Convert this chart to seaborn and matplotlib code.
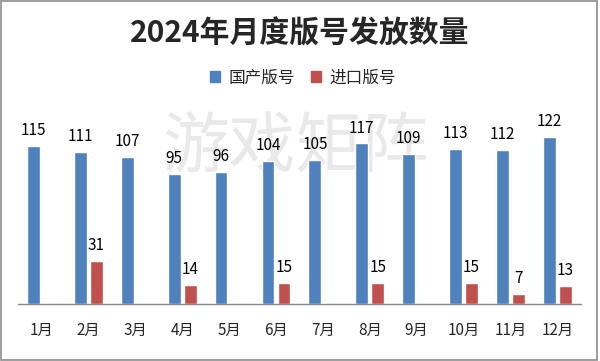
import pandas as pd
import matplotlib.pyplot as plt
from matplotlib.patches import Rectangle
import seaborn as sns

# Data
months = ["1月", "2月", "3月", "4月", "5月", "6月", "7月", "8月", "9月", "10月", "11月", "12月"]
domestic = [115, 111, 107, 95, 96, 104, 105, 117, 109, 113, 112, 122]
imported = [None, 31, None, 14, None, 15, None, 15, None, 15, 7, 13]
series = ["国产版号", "进口版号"]
colors = ["#4F81BD", "#C0504D"]

df = pd.DataFrame({
    "月份": months * 2,
    "类型": [series[0]] * 12 + [series[1]] * 12,
    "数量": domestic + imported,
})
df = df.dropna(subset=["数量"])

sns.set_style("white")
plt.rcParams["font.family"] = ["Noto Sans CJK SC", "DejaVu Sans"]

fig = plt.figure(figsize=(6, 3.61), dpi=100)
ax = fig.add_axes([0.03, 0.158, 0.938, 0.532])
ax.patch.set_alpha(0)

sns.barplot(data=df, x="月份", y="数量", hue="类型", order=months, hue_order=series,
            palette=colors, width=0.68, gap=0.2, saturation=1, ax=ax, legend=False)

for cont in ax.containers:
    ax.bar_label(cont, fmt="%d", padding=5, fontsize=11, color="#000000")

ax.set_ylim(0, 140)
ax.set_xlim(-0.5, 11.5)
ax.set_xlabel("")
ax.set_ylabel("")
ax.set_yticks([])
ax.tick_params(axis="x", length=0, pad=13, labelsize=11)
for s in ["top", "left", "right"]:
    ax.spines[s].set_visible(False)
ax.spines["bottom"].set_color("#888888")
ax.spines["bottom"].set_linewidth(1)

# Title and legend
fig.text(0.5, 1 - 34 / 361, "2024年月度版号发放数量", ha="center", va="center",
         fontsize=21.5, fontweight="bold")
handles = [Rectangle((0, 0), 1, 1, color=c) for c in colors]
fig.legend(handles, series, loc="center", bbox_to_anchor=(0.505, 1 - 78 / 361), ncol=2,
           frameon=False, fontsize=12, handlelength=0.6, handleheight=0.6,
           handletextpad=0.5, columnspacing=1.0)

# Watermark
fig.text(0.493, 1 - 149 / 361, "游戏矩阵", ha="center", va="center", fontsize=48,
         fontweight="light", color="#e9e9e9", zorder=-1)

# Chart border
fig.patches.append(Rectangle((0.002, 0.004), 0.993, 0.993, transform=fig.transFigure,
                             fill=False, edgecolor="#8c8c8c", linewidth=1.2))

plt.savefig("out.png", dpi=100)
